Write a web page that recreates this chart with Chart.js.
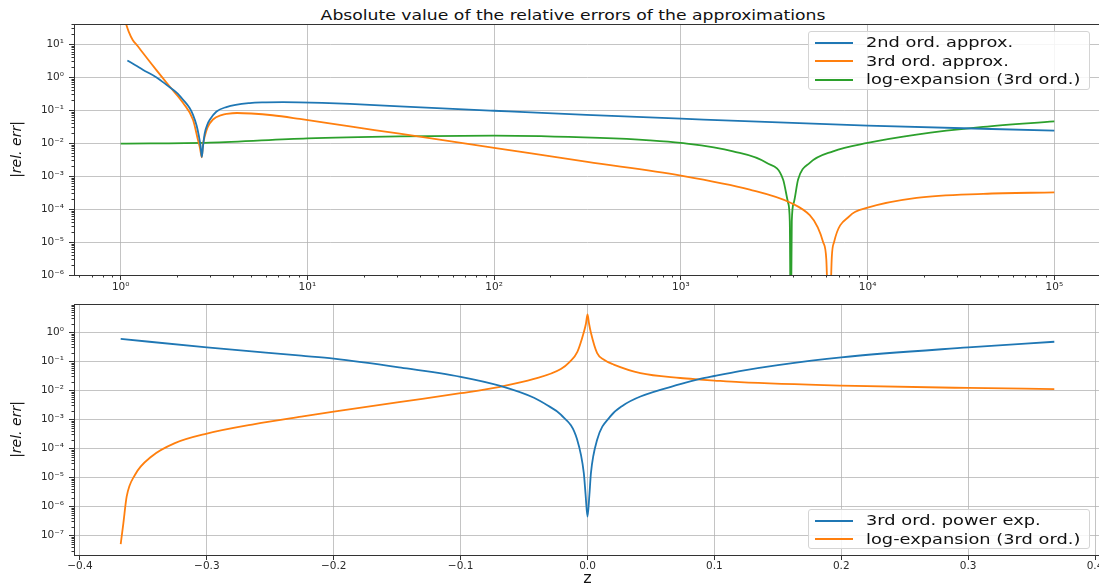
<!DOCTYPE html>
<html>
<head>
<meta charset="utf-8">
<script src="https://cdn.jsdelivr.net/npm/chart.js@4"></script>
<style>
  body { margin: 0; width: 1099px; height: 583px; overflow: hidden; background: #fff; position: relative; font-family: "DejaVu Sans", sans-serif; }
  canvas { position: absolute; left: 0; }
  #title { position: absolute; left: 573px; top: 7px; font-size: 14px; line-height: 16px; white-space: nowrap; color: #111;
           transform: translateX(-50%) scaleX(1.23); }
  .legend { position: absolute; left: 808px; width: 282px; box-sizing: border-box; padding-top: 1px;
            border: 1px solid #d4d4d4; border-radius: 3px; background: rgba(255,255,255,0.85); z-index: 2; }
  .legend .row { position: relative; height: 18.6px; }
  .legend .swatch { position: absolute; left: 6px; top: 8.5px; width: 38px; height: 2px; }
  .legend .lbl { position: absolute; left: 57px; top: 0; font-size: 14.6px; line-height: 18.6px; white-space: nowrap; color: #111;
                 transform-origin: left center; transform: scaleX(1.22); }
</style>
</head>
<body>
<div id="title">Absolute value of the relative errors of the approximations</div>
<canvas id="errTop" width="1112" height="300" style="top:0"></canvas>
<canvas id="errBottom" width="1112" height="310" style="top:290px"></canvas>
<div class="legend" id="legTop" style="top:31px; height:59px"></div>
<div class="legend" id="legBottom" style="top:509px; height:40px"></div>
<script>
// upper panel: z on a log axis
const z2nd   = [1.086, 1.2, 1.32, 1.55, 1.76, 2.0, 2.16, 2.34, 2.44, 2.55, 2.62, 2.68, 2.718, 2.76, 2.82, 2.92, 3.0, 3.26, 3.68, 4.91, 6.0, 7.4, 9.0, 12, 16.9, 31.2, 100, 312, 1000, 1e4, 1e5];
const err2nd = [3.2, 2.3, 1.66, 1.0, 0.585, 0.335, 0.206, 0.116, 0.072, 0.034, 0.017, 0.008, 0.0038, 0.008, 0.02, 0.038, 0.051, 0.091, 0.124, 0.164, 0.172, 0.175, 0.173, 0.166, 0.154, 0.13, 0.096, 0.072, 0.055, 0.034, 0.024];

const z3rd   = [1.05, 1.07, 1.104, 1.16, 1.233, 1.32, 1.55, 1.83, 2.16, 2.44, 2.59, 2.66, 2.718, 2.76, 2.82, 2.92, 3.12, 3.5, 3.7, 4.2,
                5.0, 6.5, 9.1, 16.9, 31.2, 100, 316, 1000, 2340, 3865, 4900, 5410, 5777, 6010, 6220, 6430, 6616, 8028, 1e4, 18300, 41600, 1e5];
const err3rd = [60, 40, 24.2, 13.4, 8.8, 5.3, 1.66, 0.52, 0.164, 0.051, 0.0128, 0.007, 0.0037, 0.009, 0.016, 0.03, 0.052, 0.072, 0.077, 0.082,
                0.079, 0.07, 0.054, 0.032, 0.0193, 0.0072, 0.0027, 0.00104, 3.9e-4, 1.56e-4, 6.5e-5, 2.8e-5, 1e-5, 3e-6, 1e-8, 3.4e-6, 1e-5, 6.2e-5, 1.1e-4, 2.2e-4, 2.9e-4, 3.2e-4];

const zLog   = [1, 3, 10, 31.2, 100, 368, 681.5, 1000, 1904, 2874, 3527, 3752, 3831, 3879, 3927, 4025, 4244, 4902, 6535, 1e4, 18280, 41560, 1e5];
const errLog = [0.0097, 0.0104, 0.014, 0.016, 0.0169, 0.0144, 0.01215, 0.0101, 0.00565, 0.00252, 7.9e-4, 1.56e-4, 4.3e-5, 1e-8, 4.3e-5, 1.56e-4, 7.9e-4, 0.00252, 0.00565, 0.0101, 0.0181, 0.0309, 0.0456];

// lower panel: z on a linear axis around the branch point
const zPow   = [-0.3679, -0.3, -0.2256, -0.2, -0.1486, -0.1, -0.0688, -0.0422, -0.031, -0.021, -0.0081, -0.0029, -0.0015, 0,
                0.0015, 0.0027, 0.0076, 0.018, 0.028, 0.0417, 0.0731, 0.0888, 0.1, 0.12, 0.15, 0.2, 0.3, 0.3679];
const errPow = [0.59, 0.30, 0.155, 0.123, 0.062, 0.029, 0.0141, 0.0055, 0.0029, 0.00144, 1.96e-4, 1.4e-5, 2.5e-6, 4.4e-7,
                2.5e-6, 1.4e-5, 1.96e-4, 0.00126, 0.003, 0.0061, 0.0162, 0.0245, 0.031, 0.046, 0.074, 0.137, 0.30, 0.47];

const zLogB   = [-0.3679, -0.3658, -0.3632, -0.3567, -0.3436, -0.3252, -0.3, -0.2623, -0.2256, -0.2, -0.1486, -0.1, -0.0688, -0.0422, -0.021, -0.014, -0.008,
                 -0.0029, -0.0012, 0, 0.0012, 0.0026, 0.0076, 0.013, 0.0207, 0.0417, 0.0731, 0.0888, 0.1, 0.12, 0.2, 0.3, 0.3679];
const errLogB = [5e-8, 2.6e-7, 2.15e-6, 1.2e-5, 5.2e-5, 1.5e-4, 3.2e-4, 6.8e-4, 1.23e-3, 1.82e-3, 3.9e-3, 7.9e-3, 0.0132, 0.0245, 0.054, 0.095, 0.21,
                 1.0, 2.0, 4.1, 2.0, 1.0, 0.19, 0.112, 0.077, 0.039, 0.0265, 0.0234, 0.0216, 0.019, 0.0145, 0.012, 0.011];

const topXTicks = [1, 10, 100, 1000, 1e4, 1e5];
const topYTicks = [1e-6, 1e-5, 1e-4, 1e-3, 1e-2, 1e-1, 1, 10];
const botXTicks = [-0.4, -0.3, -0.2, -0.1, 0, 0.1, 0.2, 0.3, 0.4];
const botYTicks = [1e-7, 1e-6, 1e-5, 1e-4, 1e-3, 1e-2, 1e-1, 1];

const BLUE = "#1f77b4", ORANGE = "#ff7f0e", GREEN = "#2ca02c";

Chart.defaults.font.family = '"DejaVu Sans", sans-serif';
Chart.defaults.color = "#2b2b2b";

const SUP = { "0": "⁰", "1": "¹", "2": "²", "3": "³", "4": "⁴", "5": "⁵", "6": "⁶", "7": "⁷", "8": "⁸", "9": "⁹", "-": "⁻" };
const pow10Label = v => "10" + String(Math.round(Math.log10(v))).split("").map(c => SUP[c]).join("");
const linLabel = v => (Math.abs(v) < 1e-9 ? "0.0" : v.toFixed(1).replace("-", "\u2212"));

const pts = (xs, ys) => xs.map((x, i) => ({ x, y: ys[i] }));

const line = (label, color, data) => ({
  label, data, borderColor: color, backgroundColor: color,
  borderWidth: 1.8, pointRadius: 0, cubicInterpolationMode: "monotone"
});

// full frame around the plot area plus the small minor ticks of the log axes
const frame = {
  id: "frame",
  afterDraw(chart) {
    const { ctx, chartArea: a } = chart;
    ctx.save();
    ctx.strokeStyle = "#333";
    ctx.lineWidth = 1;
    ctx.strokeRect(Math.round(a.left) + 0.5, Math.round(a.top) + 0.5, a.right - a.left, a.bottom - a.top);
    ctx.beginPath();
    for (const id of ["x", "y"]) {
      const s = chart.scales[id];
      if (s.type !== "logarithmic") continue;
      const lo = Math.floor(Math.log10(s.min)), hi = Math.ceil(Math.log10(s.max));
      for (let k = lo; k <= hi; k++) {
        for (let m = 2; m <= 9; m++) {
          const v = m * Math.pow(10, k);
          if (v < s.min || v > s.max) continue;
          const p = Math.round(s.getPixelForValue(v)) + 0.5;
          if (id === "x") { ctx.moveTo(p, a.bottom); ctx.lineTo(p, a.bottom + 2.5); }
          else { ctx.moveTo(a.left, p); ctx.lineTo(a.left - 2.5, p); }
        }
      }
    }
    ctx.stroke();
    ctx.restore();
  }
};

const gridOpts = { color: "rgba(176,176,176,0.75)", lineWidth: 1, tickLength: 5, tickColor: "#333", tickWidth: 1 };

const yAxis = (min, max, ticks) => ({
  type: "logarithmic", min, max,
  afterBuildTicks: s => { s.ticks = ticks.map(value => ({ value })); },
  afterFit: s => { s.width = 74; },
  border: { display: false },
  grid: gridOpts,
  ticks: { autoSkip: false, padding: 5, font: { size: 10.5 }, callback: v => pow10Label(v) },
  title: { display: true, text: "|rel. err|", font: { size: 14, style: "italic" }, color: "#111", padding: { top: 9, bottom: 0 } }
});

const common = {
  responsive: false,
  animation: false,
  devicePixelRatio: 1,
  plugins: { legend: { display: false }, tooltip: { enabled: false } }
};

const topChart = new Chart(document.getElementById("errTop"), {
  type: "line",
  data: {
    datasets: [
      line("2nd ord. approx.", BLUE, pts(z2nd, err2nd)),
      line("3rd ord. approx.", ORANGE, pts(z3rd, err3rd)),
      line("log-expansion (3rd ord.)", GREEN, pts(zLog, errLog))
    ]
  },
  options: {
    ...common,
    layout: { padding: { top: 24, right: 11, left: 0, bottom: 0 } },
    scales: {
      x: {
        type: "logarithmic", min: Math.pow(10, -0.25), max: Math.pow(10, 5.25),
        afterBuildTicks: s => { s.ticks = topXTicks.map(value => ({ value })); },
        afterFit: s => { s.height = 25; },
        border: { display: false },
        grid: gridOpts,
        ticks: { autoSkip: false, maxRotation: 0, padding: 1, font: { size: 10.5 }, callback: v => pow10Label(v) }
      },
      y: yAxis(1e-6, 41, topYTicks)
    }
  },
  plugins: [frame]
});

const bottomChart = new Chart(document.getElementById("errBottom"), {
  type: "line",
  data: {
    datasets: [
      line("3rd ord. power exp.", BLUE, pts(zPow, errPow)),
      line("log-expansion (3rd ord.)", ORANGE, pts(zLogB, errLogB))
    ]
  },
  options: {
    ...common,
    layout: { padding: { top: 14, right: 11, left: 0, bottom: 0 } },
    scales: {
      x: {
        type: "linear", min: -0.4047, max: 0.4047,
        afterBuildTicks: s => { s.ticks = botXTicks.map(value => ({ value })); },
        afterFit: s => { s.height = 45; },
        border: { display: false },
        grid: gridOpts,
        ticks: { autoSkip: false, maxRotation: 0, padding: 0, font: { size: 10.5 }, callback: v => linLabel(v) },
        title: { display: true, text: "z", font: { size: 16 }, color: "#111", padding: { top: 0, bottom: 12 } }
      },
      y: yAxis(2.1e-8, 9.4, botYTicks)
    }
  },
  plugins: [frame]
});

// legend boxes in the upper right / lower right corners, built from the datasets
function buildLegend(chart, el) {
  chart.data.datasets.forEach(ds => {
    const row = document.createElement("div");
    row.className = "row";
    const sw = document.createElement("div");
    sw.className = "swatch";
    sw.style.background = ds.borderColor;
    const lbl = document.createElement("div");
    lbl.className = "lbl";
    lbl.textContent = ds.label;
    row.appendChild(sw);
    row.appendChild(lbl);
    el.appendChild(row);
  });
}
buildLegend(topChart, document.getElementById("legTop"));
buildLegend(bottomChart, document.getElementById("legBottom"));
</script>
</body>
</html>
